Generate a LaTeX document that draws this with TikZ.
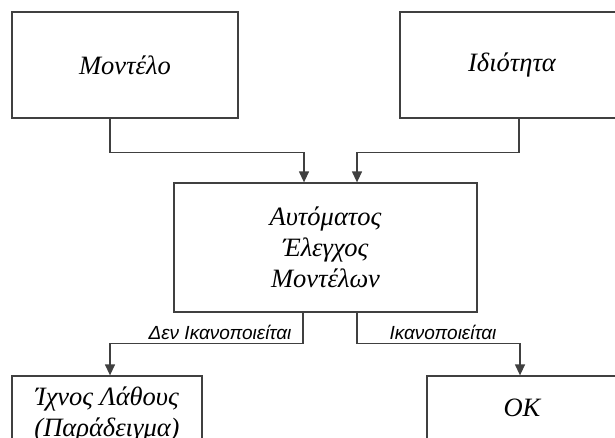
\documentclass[tikz,border=0pt]{standalone}
\usepackage{fontspec}
\setmainfont{Liberation Serif}
\newfontfamily\labelfont{Liberation Sans}
\usetikzlibrary{arrows.meta}
\begin{document}
\begin{tikzpicture}[x=1pt,y=-1pt,
  blk/.style={draw=black!75,line width=1.3pt,fill=white,inner sep=0pt,
    font=\fontsize{26.5}{31}\selectfont\itshape,align=center},
  arr/.style={draw=black!75,line width=1.3pt,
    -{Triangle[width=10pt,length=11pt]}},
  cond/.style={font=\fontsize{19}{21}\labelfont\itshape,inner sep=0pt}]
\useasboundingbox (0,0) rectangle (615,437);
\clip (0,0) rectangle (615,437);
\fill[white] (0,0) rectangle (615,437);
% input boxes
\node[blk,minimum width=226pt,minimum height=106pt] (model) at (125,65) {Μοντέλο};
\node[blk,minimum width=224pt,minimum height=106pt] (prop) at (512,65) {Ιδιότητα};
% checker
\node[blk,minimum width=303pt,minimum height=129pt] (check) at (325.5,247.5)
  {Αυτόματος\\Έλεγχος\\Μοντέλων};
% outcomes
\node[blk,minimum width=190pt,minimum height=76pt] (trace) at (107,414)
  {Ίχνος Λάθους\\(Παράδειγμα)};
\node[blk,minimum width=190pt,minimum height=64pt] (ok) at (522,408) {OK};
% connectors
\draw[arr] ([xshift=-15pt]model.south) -- ++(0,34) -| ([xshift=-21.5pt]check.north);
\draw[arr] ([xshift=7pt]prop.south) -- ++(0,34) -| ([xshift=31.5pt]check.north);
\draw[arr] ([xshift=-22.5pt]check.south) -- ++(0,31) -| ([xshift=3pt]trace.north);
\draw[arr] ([xshift=31.5pt]check.south) -- ++(0,31) -| ([xshift=-2pt]ok.north);
% branch labels
\node[cond] (no) at (220,332) {Δεν Ικανοποιείται};
\node[cond] (yes) at (443,332) {Ικανοποιείται};
\end{tikzpicture}
\end{document}
